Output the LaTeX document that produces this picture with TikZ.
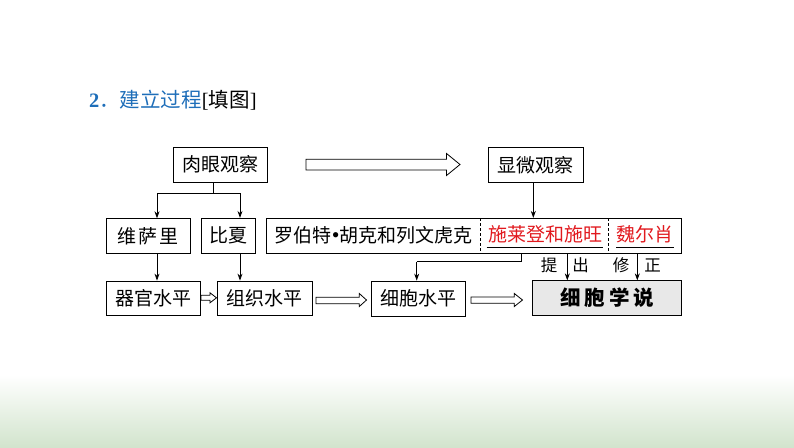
\documentclass[tikz,border=0pt]{standalone}
\usepackage{fontspec}
\newfontfamily\cjk{Noto Sans CJK SC}
\setmainfont{Liberation Serif}
\usetikzlibrary{arrows.meta}
\definecolor{titleblue}{RGB}{30,110,185}
\definecolor{redtxt}{RGB}{225,25,30}
\definecolor{greenbot}{RGB}{210,228,205}
\definecolor{boxgray}{RGB}{232,232,232}
\tikzset{
  box/.style={draw, line width=0.8pt, minimum height=35pt, inner sep=0pt, font=\cjk\fontsize{19}{21}\selectfont},
  lbl/.style={inner sep=0pt, font=\cjk\fontsize{19}{21}\selectfont},
  small/.style={inner sep=0pt, font=\cjk\fontsize{16.5}{18}\selectfont},
  conn/.style={line width=0.8pt, -{Stealth[length=7pt,width=5pt]}},
  plain/.style={line width=0.8pt},
  hollow/.style={draw, line width=0.8pt, fill=white, line join=miter},
}
\begin{document}
\begin{tikzpicture}[x=1pt,y=-1pt]
\useasboundingbox (0,0) rectangle (794,447);
\shade[top color=white, bottom color=greenbot] (0,375) rectangle (794,447);

% title
\node[anchor=west, inner sep=0pt] (title) at (89,100) {\fontsize{20.5}{24}\selectfont\textbf{\color{titleblue}2}\textcolor{titleblue}{\cjk．建立过程}[{\cjk 填图}]};

% top boxes
\node[box, minimum width=94pt] (rouyan) at (220,164.5) {肉眼观察};
\node[box, minimum width=95pt] (xianwei) at (535.8,164.8) {显微观察};

% second row
\node[box, minimum width=84pt] (weisali) at (148,235.8) {维\hspace{2pt}萨\hspace{2pt}里};
\node[box, minimum width=54pt] (bixia) at (228,235.8) {比夏};
\node[box, minimum width=415pt] (big) at (474.2,235.8) {};
\draw[line width=0.7pt, dash pattern=on 3pt off 2pt] (480.7,218.3) -- (480.7,253.3);
\draw[line width=0.7pt, dash pattern=on 3pt off 2pt] (608.3,218.3) -- (608.3,253.3);
\node[lbl] (hooke) at (373.7,235.3) {罗伯特{\rmfamily\fontsize{22}{21}\selectfont•}胡克和列文虎克};
\node[lbl, text=redtxt] (schl) at (545,234.5) {施莱登和施旺};
\node[lbl, text=redtxt] (virchow) at (645,234.5) {魏尔肖};
\draw[line width=0.8pt] (486.7,247.5) -- (603.3,247.5);
\draw[line width=0.8pt] (616,247.5) -- (674,247.5);

% third row
\node[box, minimum width=94pt, minimum height=34pt] (qiguan) at (153,298) {器官水平};
\node[box, minimum width=95pt, minimum height=34pt] (zuzhi) at (264.7,298) {组织水平};
\node[box, minimum width=94pt] (xibao) at (418,298.5) {细胞水平};
\node[box, minimum width=149pt, minimum height=34.5pt, fill=boxgray, font=\cjk\bfseries\fontsize{20.5}{22}\selectfont] (xueshuo) at (607,298) {细\hspace{4pt}胞\hspace{4pt}学\hspace{4pt}说};

% connectors
\coordinate (split) at (213.3,193.3);
\draw[plain] (rouyan.south -| split) -- (split);
\draw[plain] (157,193.3) -- (240,193.3);
\draw[conn] (157,193.3) -- (157,218.3);
\draw[conn] (240,193.3) -- (bixia.north -| 240,0);
\draw[conn] (weisali.south -| 157,0) -- (qiguan.north -| 157,0);
\draw[conn] (bixia.south -| 240,0) -- (zuzhi.north -| 240,0);
\draw[conn] (xianwei.south -| 533.3,0) -- (big.north -| 533.3,0);
\draw[plain] (big.south -| 521.5,0) -- (521.5,261.5) -- (416.7,261.5);
\draw[conn] (416.7,261.5) -- (xibao.north -| 416.7,0);
\draw[conn] (big.south -| 567.3,0) -- (xueshuo.north -| 567.3,0);
\draw[conn] (big.south -| 637.3,0) -- (xueshuo.north -| 637.3,0);
\node[small] (ti) at (549,265.5) {提};
\node[small] (chu) at (580.5,265.5) {出};
\node[small] (xiu) at (621,265.5) {修};
\node[small] (zheng) at (652.5,265.5) {正};

% hollow arrows
\draw[hollow] (306,159.3) -- (446.5,159.3) -- (446.5,153.5) -- (460,164.5) -- (446.5,175.5) -- (446.5,170) -- (306,170) -- cycle;
\draw[hollow] (201,295.3) -- (210,295.3) -- (210,292.8) -- (216.5,297.8) -- (210,302.8) -- (210,300.3) -- (201,300.3) -- cycle;
\draw[hollow] (316,297.3) -- (359.3,297.3) -- (359.3,293.5) -- (366.5,300) -- (359.3,306.5) -- (359.3,303.7) -- (316,303.7) -- cycle;
\draw[hollow] (471,297) -- (514.3,297) -- (514.3,293.5) -- (522.5,300) -- (514.3,306.5) -- (514.3,303.3) -- (471,303.3) -- cycle;
\end{tikzpicture}
\end{document}
